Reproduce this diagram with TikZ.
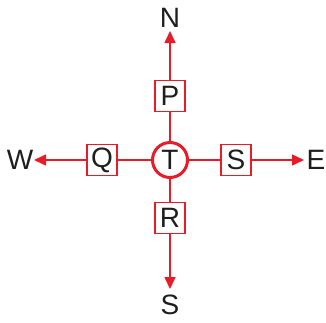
\documentclass[tikz,border=0pt]{standalone}
\usepackage{fontspec}
\setmainfont{Liberation Sans}
\usetikzlibrary{arrows.meta}
\definecolor{cred}{RGB}{232,28,40}
\definecolor{ctext}{RGB}{30,30,30}
\begin{document}
\begin{tikzpicture}[x=1pt,y=-1pt,
  lab/.style={text=ctext,font=\fontsize{28}{30}\selectfont,inner sep=0pt},
  boxnode/.style={draw=cred,line width=1.5pt,minimum width=30pt,minimum height=31pt,inner sep=0pt,text=ctext,font=\fontsize{28}{30}\selectfont},
  centernode/.style={circle,draw=cred,line width=3pt,minimum size=35pt,inner sep=0pt,text=ctext,font=\fontsize{28}{30}\selectfont},
  conn/.style={draw=cred,line width=1.5pt},
  arr/.style={conn,-{Triangle[length=12pt,width=11pt]}}]
\useasboundingbox (0,0) rectangle (326,322);
\node[centernode] (T) at (170,160) {T};
\node[boxnode] (P) at (170,96) {P};
\node[boxnode] (Q) at (102,160) {Q};
\node[boxnode] (S) at (236,160) {S};
\node[boxnode] (R) at (170,218) {R};
\coordinate (tN) at (170,31);
\coordinate (tS) at (170,289);
\coordinate (tW) at (34,160);
\coordinate (tE) at (304,160);
\node[lab] (N) at (170,18) {N};
\node[lab] (Sl) at (170,305) {S};
\node[lab] (W) at (20,160) {W};
\node[lab] (E) at (316,160) {E};
\draw[conn] (T) -- (P);
\draw[conn] (T) -- (Q);
\draw[conn] (T) -- (S);
\draw[conn] (T) -- (R);
\draw[arr] (P) -- (tN);
\draw[arr] (R) -- (tS);
\draw[arr] (Q) -- (tW);
\draw[arr] (S) -- (tE);
\end{tikzpicture}
\end{document}
